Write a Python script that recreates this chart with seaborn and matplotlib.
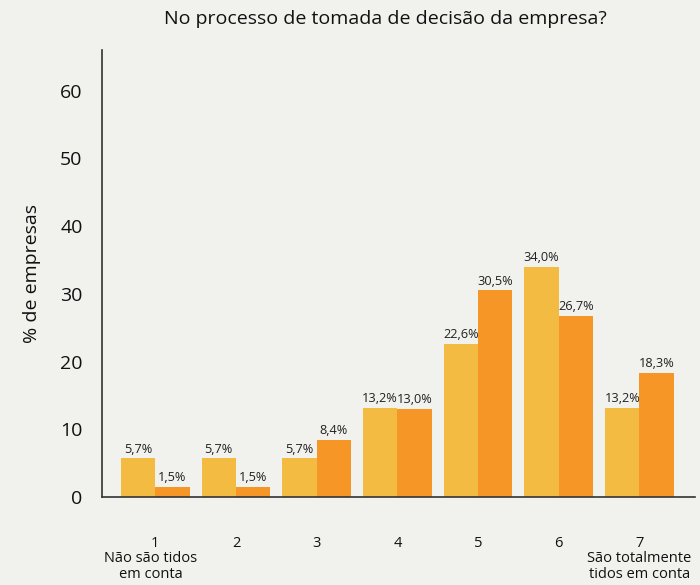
import matplotlib
matplotlib.use("Agg")
import matplotlib.pyplot as plt
import seaborn as sns
import pandas as pd

categories = ["1", "2", "3", "4", "5", "6", "7"]
series_names = ["Série A", "Série B"]
values_a = [5.7, 5.7, 5.7, 13.2, 22.6, 34.0, 13.2]
values_b = [1.5, 1.5, 8.4, 13.0, 30.5, 26.7, 18.3]
y_ticks = [0, 10, 20, 30, 40, 50, 60]
title = "No processo de tomada de decisão da empresa?"
y_label = "% de empresas"
low_note = "Não são tidos\nem conta"
high_note = "São totalmente\ntidos em conta"

df = pd.DataFrame({
    "cat": categories * 2,
    "serie": [series_names[0]] * len(categories) + [series_names[1]] * len(categories),
    "valor": values_a + values_b,
})

bg = "#F1F1EE"
sns.set_theme(style="white")
plt.rcParams["font.family"] = ["Open Sans", "DejaVu Sans"]

fig = plt.figure(figsize=(7, 5.85), dpi=100, facecolor=bg)
ax = fig.add_axes([0.1457, 0.1504, 0.8473, 0.7641])
ax.set_facecolor(bg)

sns.barplot(data=df, x="cat", y="valor", hue="serie", order=categories,
            hue_order=series_names, palette=["#F4BB42", "#F59626"],
            width=0.85, saturation=1, linewidth=0, edgecolor="none",
            ax=ax, legend=False)

for cont, vals in zip(ax.containers, [values_a, values_b]):
    ax.bar_label(cont, labels=[f"{v:.1f}%".replace(".", ",") for v in vals],
                 padding=2, fontsize=9.2, color="#222222")

ax.set_ylim(0, 66)
ax.set_xlim(-0.66, 6.69)
ax.set_yticks(y_ticks)
ax.tick_params(axis="y", length=0, pad=14, labelsize=14, labelcolor="#111111")
ax.tick_params(axis="x", length=0, pad=28, labelsize=10.5, labelcolor="#111111")
ax.set_xlabel("")
ax.set_ylabel(y_label, fontsize=14, color="#111111", labelpad=14)
sns.despine(ax=ax)
for s in ["left", "bottom"]:
    ax.spines[s].set_color("#333333")
    ax.spines[s].set_linewidth(1.2)

tr = ax.get_xaxis_transform()
ax.text(-0.06, -0.12, low_note, transform=tr, ha="center", va="top",
        fontsize=10.5, color="#111111", linespacing=1.15)
ax.text(6.0, -0.12, high_note, transform=tr, ha="center", va="top",
        fontsize=10.5, color="#111111", linespacing=1.15)

fig.text(0.55, 0.968, title, ha="center", va="center", fontsize=14, color="#111111")

fig.savefig("out.png", dpi=100, facecolor=bg)
